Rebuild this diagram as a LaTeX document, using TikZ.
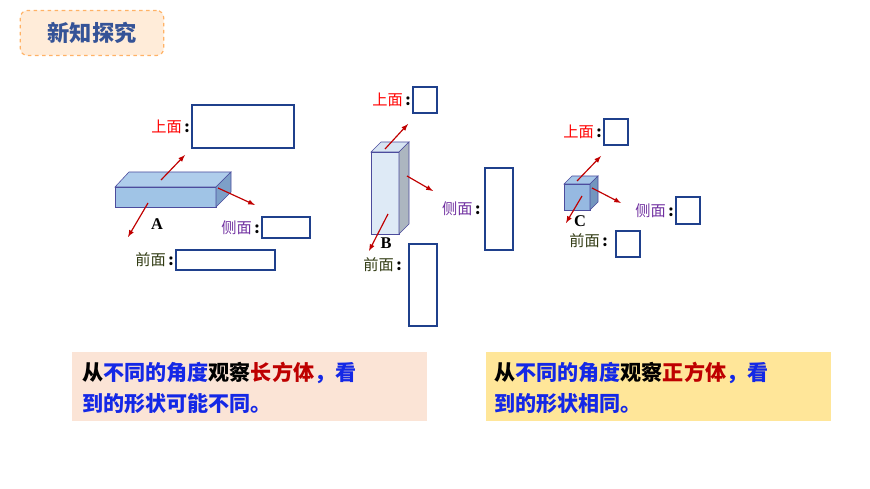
\documentclass[tikz,border=0pt]{standalone}
\usepackage{fontspec}
\newfontfamily\cjk{Noto Sans CJK SC}
\setmainfont{Liberation Serif}
\usetikzlibrary{positioning}
\definecolor{arrowred}{RGB}{192,0,0}
\definecolor{boxblue}{RGB}{31,64,140}
\definecolor{sidepurple}{RGB}{112,48,160}
\definecolor{frontgreen}{RGB}{50,60,20}
\definecolor{txtblue}{RGB}{20,40,230}
\definecolor{txtred}{RGB}{190,0,0}
\definecolor{pinkbg}{RGB}{251,228,214}
\definecolor{yellowbg}{RGB}{255,230,153}
\tikzset{
  face/.style={draw=blue!45!black!70, line width=.5pt},
  view/.style={->, >=latex, arrowred, line width=1pt},
  frame/.style={draw=boxblue, line width=1.4pt},
  lbl/.style={font=\cjk\fontsize{13}{15}\selectfont, anchor=east, inner sep=0pt},
  letter/.style={font=\bfseries\fontsize{14}{16}\selectfont, inner sep=0pt},
}
\newcommand{\lblcolon}{\textbf{\,:}}
\begin{document}
\begin{tikzpicture}[x=0.03cm, y=-0.03cm]
  \useasboundingbox (0,0) rectangle (870,489);
  % header
  \node[draw=orange!60, dashed, rounded corners=6pt, fill=orange!15, line width=1pt,
        minimum width=4.3cm, minimum height=1.35cm,
        font=\cjk\bfseries\fontsize{19}{21}\selectfont, text=boxblue!90!white] (head) at (92,33) {新知探究};
  % cuboid A
  \filldraw[face, fill={rgb,255:red,160;green,196;blue,230}] (115,187) rectangle (216,207);
  \filldraw[face, fill={rgb,255:red,175;green,205;blue,235}] (115,187) -- (129,172) -- (231,172) -- (216,187) -- cycle;
  \filldraw[face, fill={rgb,255:red,125;green,160;blue,200}] (216,187) -- (231,172) -- (231,192) -- (216,207) -- cycle;
  \node[letter] (a) at (157,224) {A};
  \draw[view] (161,180) -- (185,155);
  \draw[view] (218,188) -- (255,205);
  \draw[view] (148,203) -- (128,237);
  \node[frame, minimum width=3.06cm, minimum height=1.29cm] (aTop) at (243,126.5) {};
  \node[lbl, left=1pt of aTop] {\textcolor{red}{上面}\lblcolon};
  \node[frame, minimum width=1.44cm, minimum height=.63cm] (aSide) at (286,227.5) {};
  \node[lbl, left=1pt of aSide] {\textcolor{sidepurple}{侧面}\lblcolon};
  \node[frame, minimum width=2.97cm, minimum height=.6cm] (aFront) at (225.5,260) {};
  \node[lbl, left=1pt of aFront] {\textcolor{frontgreen}{前面}\lblcolon};
  % cuboid B
  \filldraw[face, fill={rgb,255:red,222;green,234;blue,246}] (371,152) rectangle (399,234);
  \filldraw[face, fill={rgb,255:red,215;green,228;blue,242}] (371,152) -- (381,142) -- (409,142) -- (399,152) -- cycle;
  \filldraw[face, fill={rgb,255:red,172;green,182;blue,192}] (399,152) -- (409,142) -- (409,224) -- (399,234) -- cycle;
  \node[letter] (b) at (386,243) {B};
  \draw[view] (385,149) -- (408,124);
  \draw[view] (407,176) -- (433,191);
  \draw[view] (388,214) -- (369,251);
  \node[frame, minimum width=.72cm, minimum height=.78cm] (bTop) at (425,100) {};
  \node[lbl, left=1pt of bTop] {\textcolor{red}{上面}\lblcolon};
  \node[frame, minimum width=.84cm, minimum height=2.46cm] (bSide) at (499,209) {};
  \node[lbl, left=3pt of bSide] {\textcolor{sidepurple}{侧面}\lblcolon};
  \node[frame, minimum width=.84cm, minimum height=2.46cm] (bFront) at (423,285) {};
  \node[lbl, anchor=east] at (402,265) {\textcolor{frontgreen}{前面}\lblcolon};
  % cube C
  \filldraw[face, fill={rgb,255:red,150;green,185;blue,225}] (564,184) rectangle (590,210);
  \filldraw[face, fill={rgb,255:red,165;green,198;blue,232}] (564,184) -- (572,176) -- (598,176) -- (590,184) -- cycle;
  \filldraw[face, fill={rgb,255:red,115;green,150;blue,190}] (590,184) -- (598,176) -- (598,202) -- (590,210) -- cycle;
  \node[letter] (c) at (580,221) {C};
  \draw[view] (577,181) -- (601,156);
  \draw[view] (592,188) -- (621,203);
  \draw[view] (582,196) -- (566,223);
  \node[frame, minimum width=.72cm, minimum height=.78cm] (cTop) at (616,132) {};
  \node[lbl, left=1pt of cTop] {\textcolor{red}{上面}\lblcolon};
  \node[frame, minimum width=.72cm, minimum height=.81cm] (cSide) at (688,210.5) {};
  \node[lbl, left=1pt of cSide] {\textcolor{sidepurple}{侧面}\lblcolon};
  \node[frame, minimum width=.72cm, minimum height=.78cm] (cFront) at (628,244) {};
  \node[lbl, anchor=east] at (608,241) {\textcolor{frontgreen}{前面}\lblcolon};
  % conclusions
  \fill[pinkbg] (72,352) rectangle (427,421);
  \fill[yellowbg] (486,352) rectangle (831,421);
  \begin{scope}[every node/.style={anchor=west, inner sep=0pt, font=\cjk\bfseries\fontsize{18}{20}\selectfont, text=txtblue}]
    \node (l1) at (82,373) {\textcolor{black}{从}不同的角度\textcolor{black}{观察}\textcolor{txtred}{长方体}，看};
    \node (l2) at (82,404) {到的形状可能不同。};
    \node (r1) at (494,373) {\textcolor{black}{从}不同的角度\textcolor{black}{观察}\textcolor{txtred}{正方体}，看};
    \node (r2) at (494,404) {到的形状相同。};
  \end{scope}
\end{tikzpicture}
\end{document}
